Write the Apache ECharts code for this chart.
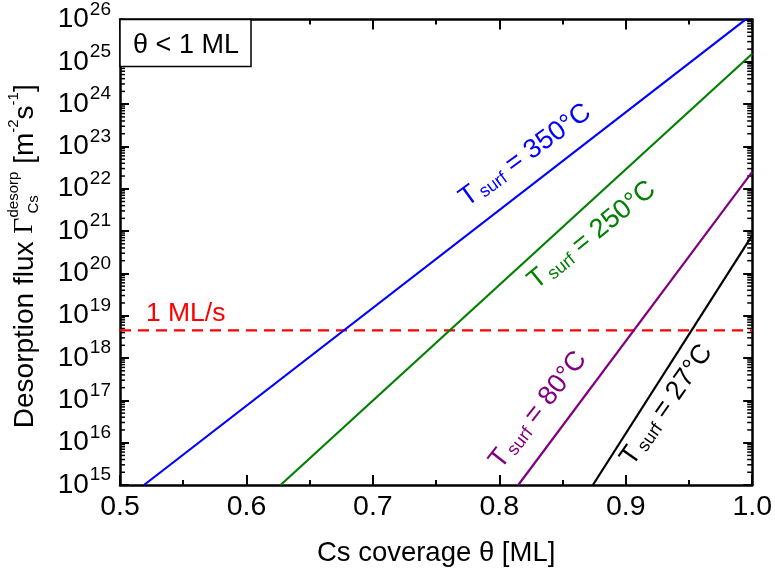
<!DOCTYPE html>
<html>
<head>
<meta charset="utf-8">
<script src="https://cdn.jsdelivr.net/npm/echarts@6/dist/echarts.min.js"></script>
<style>
  html, body { margin: 0; padding: 0; background: #fff; }
  #chart { width: 775px; height: 574px; }
</style>
</head>
<body>
<div id="chart"></div>
<script>
// ---- data ----
const coverageTicks = [0.5, 0.6, 0.7, 0.8, 0.9, 1.0];
const fluxDecades = [15, 16, 17, 18, 19, 20, 21, 22, 23, 24, 25, 26];
const surfaceTemps = ['350°C', '250°C', '80°C', '27°C'];
// desorption flux vs. coverage (straight on the log axis), end points
const flux350 = [[0.519, 1e15], [1.0, 1.32e26]];
const flux250 = [[0.627, 1e15], [1.0, 1.55e25]];
const flux80 = [[0.815, 1e15], [1.0, 2.5e22]];
const flux27 = [[0.874, 1e15], [1.0, 7.9e20]];
// flux equivalent to one monolayer per second
const oneMLperSecond = 4.5e18;

// ---- styling / layout ----
const FONT = '"Liberation Sans", Arial, sans-serif';
const lineColors = ['#0000ff', '#008000', '#800080', '#000000'];
const seriesData = [flux350, flux250, flux80, flux27];
// where each temperature label sits (coverage, flux) and its tilt in degrees
const labelPlacement = [
  { at: [0.8205, Math.pow(10, 22.79)], angle: 36 },
  { at: [0.8732, Math.pow(10, 20.90)], angle: 39 },
  { at: [0.8307, Math.pow(10, 16.77)], angle: 52 },
  { at: [0.9323, Math.pow(10, 16.89)], angle: 55 }
];

const chart = echarts.init(document.getElementById('chart'), null, { renderer: 'canvas' });

const axisLineStyle = { color: '#000', width: 2.5 };
const tickStyle = { color: '#000', width: 2 };

const xMin = coverageTicks[0], xMax = coverageTicks[coverageTicks.length - 1];
const yMin = Math.pow(10, fluxDecades[0]), yMax = Math.pow(10, fluxDecades[fluxDecades.length - 1]);

function xAxisDef(pos, labels) {
  return {
    type: 'value', position: pos, min: xMin, max: xMax, interval: 0.1,
    axisLine: { onZero: false, lineStyle: axisLineStyle },
    axisTick: { inside: true, length: 10, lineStyle: tickStyle },
    minorTick: { show: true, splitNumber: 2, length: 5, lineStyle: tickStyle },
    splitLine: { show: false },
    axisLabel: labels ? {
      show: true, color: '#000', fontFamily: FONT, fontSize: 28.5, margin: 8,
      formatter: v => v.toFixed(1)
    } : { show: false }
  };
}
function yAxisDef(pos, labels) {
  return {
    type: 'log', logBase: 10, position: pos, min: yMin, max: yMax, interval: 1,
    axisLine: { onZero: false, lineStyle: axisLineStyle },
    axisTick: { inside: true, length: 9, lineStyle: tickStyle },
    minorTick: { show: false },
    splitLine: { show: false },
    axisLabel: labels ? {
      show: true, color: '#000', fontFamily: FONT, margin: 9,
      showMinLabel: true, showMaxLabel: true,
      formatter: v => '{b|10}{s|' + Math.round(Math.log10(v)) + '}',
      rich: {
        b: { fontSize: 28, fontFamily: FONT, color: '#000' },
        s: { fontSize: 19, fontFamily: FONT, color: '#000', padding: [0, 0, 20, 1] }
      }
    } : { show: false }
  };
}

const xTitle = xAxisDef('bottom', true);
xTitle.name = 'Cs coverage θ [ML]';
xTitle.nameLocation = 'middle';
xTitle.nameGap = 54;
xTitle.nameTextStyle = { fontFamily: FONT, fontSize: 27.5, color: '#000' };

const series = seriesData.map((d, i) => ({
  type: 'line', data: d, xAxisIndex: 0, yAxisIndex: 0,
  showSymbol: false, symbol: 'none', clip: true, silent: true,
  lineStyle: { color: lineColors[i], width: 2.2 }, z: 3
}));
series.push({
  type: 'line', data: [[xMin, oneMLperSecond], [xMax, oneMLperSecond]],
  showSymbol: false, symbol: 'none', clip: true, silent: true,
  lineStyle: { color: '#ff0000', width: 2.2, type: [11, 7] }, z: 2
});

chart.setOption({
  animation: false,
  backgroundColor: '#fff',
  grid: { left: 120, right: 20, top: 19, bottom: 89 },
  xAxis: [xTitle, xAxisDef('top', false)],
  yAxis: [yAxisDef('left', true), yAxisDef('right', false)],
  series: series
});

// ---- extra decorations placed through the axes ----
const px = (x, y) => chart.convertToPixel({ xAxisIndex: 0, yAxisIndex: 0 }, [x, y]);
const leftX = px(xMin, yMin)[0], rightX = px(xMax, yMin)[0];
const topY = px(xMin, yMax)[1], bottomY = px(xMin, yMin)[1];
const g = [];

// logarithmic minor ticks (2..9 x 10^n) on both vertical axes
for (let n = fluxDecades[0]; n < fluxDecades[fluxDecades.length - 1]; n++) {
  for (let k = 2; k <= 9; k++) {
    const y = chart.convertToPixel({ yAxisIndex: 0 }, k * Math.pow(10, n));
    g.push({ type: 'line', silent: true, shape: { x1: leftX, y1: y, x2: leftX + 5, y2: y },
      style: { stroke: '#000', lineWidth: 1.5 } });
    g.push({ type: 'line', silent: true, shape: { x1: rightX, y1: y, x2: rightX - 5, y2: y },
      style: { stroke: '#000', lineWidth: 1.5 } });
  }
}

// temperature labels along each curve
surfaceTemps.forEach((t, i) => {
  const p = px(labelPlacement[i].at[0], labelPlacement[i].at[1]);
  g.push({
    type: 'text', silent: true, x: p[0], y: p[1], rotation: labelPlacement[i].angle * Math.PI / 180,
    style: {
      text: '{t|T}{s|surf}{t| = ' + t + '}',
      align: 'center', verticalAlign: 'middle', fill: lineColors[i],
      rich: {
        t: { fontSize: 27, fontFamily: FONT, fill: lineColors[i] },
        s: { fontSize: 18, fontFamily: FONT, fill: lineColors[i], padding: [11, 0, 0, 3] }
      }
    }, z: 10
  });
});

// "1 ML/s" annotation above the dashed line
const mlp = px(0.5205, oneMLperSecond);
g.push({
  type: 'text', silent: true, x: mlp[0], y: mlp[1] - 3,
  style: { text: '1 ML/s', fontSize: 26.5, fontFamily: FONT, fill: '#ff0000', align: 'left', verticalAlign: 'bottom' },
  z: 10
});

// regime box in the top-left corner
g.push({
  type: 'rect', silent: true, shape: { x: leftX, y: topY, width: 131, height: 47 },
  style: { fill: '#fff', stroke: '#000', lineWidth: 1.5 }, z: 10
});
g.push({
  type: 'text', silent: true, x: leftX + 66, y: topY + 26,
  style: { text: 'θ < 1 ML', fontSize: 27, fontFamily: FONT, fill: '#000', align: 'center', verticalAlign: 'middle' },
  z: 11
});

// vertical axis title with stacked super/subscript
const ctx = document.createElement('canvas').getContext('2d');
function textWidth(s, size, fam) { ctx.font = size + 'px ' + fam; return ctx.measureText(s).width; }
const mainSize = 28, smallSize = 15;
const pieces = [
  { t: 'Desorption flux ', size: mainSize, dy: 0 },
  { t: 'Γ', size: mainSize, dy: 0, fam: '"Liberation Serif", serif' },
  { t: 'desorp', size: smallSize, dy: -11, stackWith: { t: 'Cs', size: smallSize, dy: 9, dx: 4 } },
  { t: ' [m', size: mainSize, dy: 0 },
  { t: '-2', size: smallSize, dy: -11 },
  { t: 's', size: mainSize, dy: 0 },
  { t: '-1', size: smallSize, dy: -11 },
  { t: ']', size: mainSize, dy: 0 }
];
let cursor = 0;
const parts = [];
pieces.forEach(p => {
  const fam = p.fam || FONT;
  const w = textWidth(p.t, p.size, fam);
  parts.push({ t: p.t, x: cursor, dy: p.dy, size: p.size, fam: fam });
  let adv = w;
  if (p.stackWith) {
    const s = p.stackWith;
    const w2 = textWidth(s.t, s.size, FONT) + s.dx;
    parts.push({ t: s.t, x: cursor + s.dx, dy: s.dy, size: s.size, fam: FONT });
    adv = Math.max(w, w2);
  }
  cursor += adv;
});
const total = cursor;
g.push({
  type: 'group', silent: true, x: 25, y: (topY + bottomY) / 2 + 4, rotation: Math.PI / 2,
  children: parts.map(p => ({
    type: 'text', silent: true, x: p.x - total / 2, y: p.dy,
    style: { text: p.t, fontSize: p.size, fontFamily: p.fam, fill: '#000', align: 'left', verticalAlign: 'middle' }
  }))
});

chart.setOption({ graphic: g });
</script>
</body>
</html>
